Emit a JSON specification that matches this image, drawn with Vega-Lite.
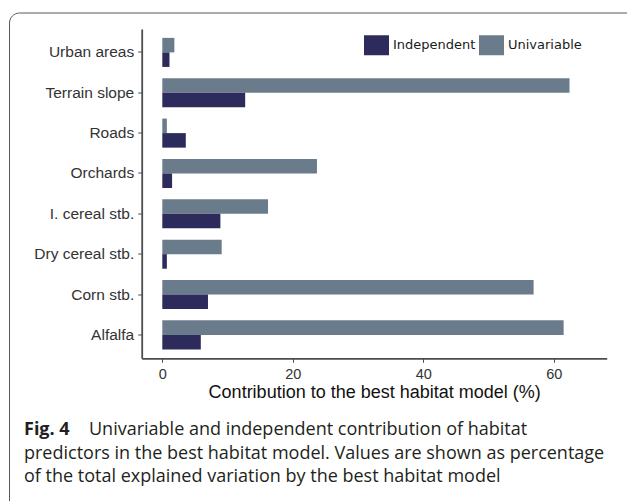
{
  "$schema": "https://vega.github.io/schema/vega-lite/v6.json",
  "width": 638,
  "height": 498.5,
  "autosize": {"type": "none"},
  "padding": {"left": 9, "top": 12.5, "right": -20, "bottom": -10},
  "background": "white",
  "config": {
    "view": {"stroke": "#5a5a5a", "strokeWidth": 1, "cornerRadius": 10, "fill": "white"}
  },
  "data": {
    "values": [
      {"predictor": "Urban areas", "type": "Univariable", "value": 1.85},
      {"predictor": "Urban areas", "type": "Independent", "value": 1.1},
      {"predictor": "Terrain slope", "type": "Univariable", "value": 62.4},
      {"predictor": "Terrain slope", "type": "Independent", "value": 12.7},
      {"predictor": "Roads", "type": "Univariable", "value": 0.7},
      {"predictor": "Roads", "type": "Independent", "value": 3.6},
      {"predictor": "Orchards", "type": "Univariable", "value": 23.7},
      {"predictor": "Orchards", "type": "Independent", "value": 1.5},
      {"predictor": "I. cereal stb.", "type": "Univariable", "value": 16.2},
      {"predictor": "I. cereal stb.", "type": "Independent", "value": 8.9},
      {"predictor": "Dry cereal stb.", "type": "Univariable", "value": 9.1},
      {"predictor": "Dry cereal stb.", "type": "Independent", "value": 0.7},
      {"predictor": "Corn stb.", "type": "Univariable", "value": 56.9},
      {"predictor": "Corn stb.", "type": "Independent", "value": 7.0},
      {"predictor": "Alfalfa", "type": "Univariable", "value": 61.5},
      {"predictor": "Alfalfa", "type": "Independent", "value": 5.9}
    ]
  },
  "title": {
    "text": "Fig. 4",
    "subtitle": [
      "\u2800\u2800\u2800\u2800\u2800Univariable and independent contribution of habitat",
      "predictors in the best habitat model. Values are shown as percentage",
      "of the total explained variation by the best habitat model"
    ],
    "orient": "bottom",
    "anchor": "start",
    "frame": "group",
    "offset": -90,
    "dx": 15,
    "font": "Open Sans",
    "fontSize": 18,
    "fontWeight": "bold",
    "color": "#231f20",
    "subtitleFont": "Open Sans",
    "subtitleFontSize": 18,
    "subtitleColor": "#231f20",
    "subtitleLineHeight": 23.5,
    "subtitlePadding": -18
  },
  "mark": {"type": "bar"},
  "encoding": {
    "y": {
      "field": "predictor",
      "type": "nominal",
      "sort": ["Urban areas", "Terrain slope", "Roads", "Orchards", "I. cereal stb.", "Dry cereal stb.", "Corn stb.", "Alfalfa"],
      "scale": {"range": [16.5, 345.8], "paddingInner": 0.28, "paddingOuter": 0.22},
      "axis": {
        "title": null,
        "offset": -132.7,
        "grid": false,
        "domainColor": "#4d4d4d",
        "domainWidth": 1.8,
        "tickColor": "#4d4d4d",
        "tickSize": 4,
        "tickWidth": 1,
        "labelFont": "Liberation Sans",
        "labelFontSize": 15.5,
        "labelColor": "#333333",
        "labelPadding": 4
      }
    },
    "yOffset": {"field": "type", "sort": ["Univariable", "Independent"]},
    "x": {
      "field": "value",
      "type": "quantitative",
      "scale": {"domain": [-3.157, 68.1], "range": [132.7, 597.7], "nice": false, "zero": false},
      "axis": {
        "values": [0, 20, 40, 60],
        "offset": -152.7,
        "grid": false,
        "title": "Contribution to the best habitat model (%)",
        "domainColor": "#4d4d4d",
        "domainWidth": 1.8,
        "tickColor": "#4d4d4d",
        "tickSize": 4,
        "tickWidth": 1,
        "labelFont": "Liberation Sans",
        "labelFontSize": 14.5,
        "labelColor": "#333333",
        "labelPadding": 5,
        "titleFont": "Liberation Sans",
        "titleFontSize": 18,
        "titleFontWeight": "normal",
        "titleColor": "#111111",
        "titlePadding": 3
      }
    },
    "color": {
      "field": "type",
      "type": "nominal",
      "scale": {"domain": ["Independent", "Univariable"], "range": ["#2c2b5c", "#6a7c8b"]},
      "legend": {
        "title": null,
        "orient": "none",
        "legendX": 355,
        "legendY": 20,
        "direction": "horizontal",
        "columns": 2,
        "symbolType": "M-1,-0.8H1V0.8H-1Z",
        "symbolSize": 625,
        "symbolStrokeWidth": 0,
        "labelFont": "DejaVu Sans",
        "labelFontSize": 13,
        "labelColor": "#1a1a1a",
        "labelOffset": 4,
        "columnPadding": 3,
        "padding": 0
      }
    }
  }
}
